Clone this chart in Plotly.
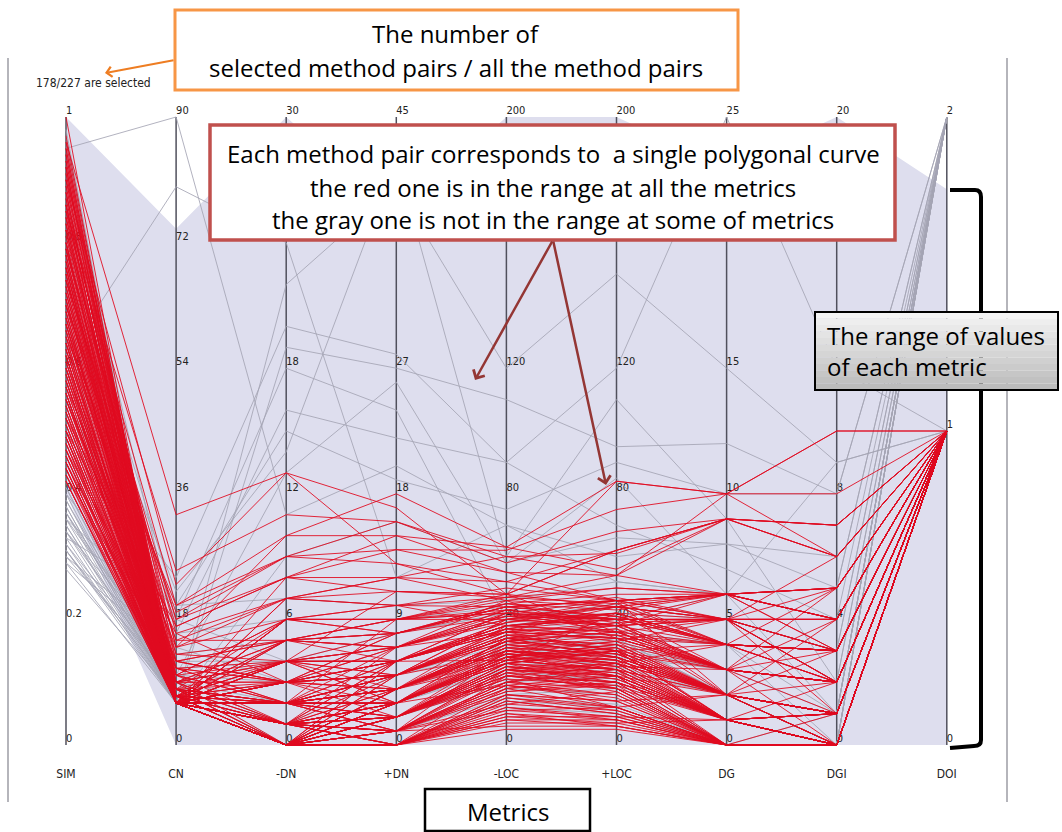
import plotly.graph_objects as go

W, H = 1062, 832

# ---------------- data ----------------
metrics = ["SIM", "CN", "-DN", "+DN", "-LOC", "+LOC", "DG", "DGI", "DOI"]
axis_max = [1, 90, 30, 45, 200, 200, 25, 20, 2]
tick_fracs = [0, 0.2, 0.4, 0.6, 0.8, 1.0]
# labels hidden by the callout boxes in the reference are left empty
tick_labels = [
    ["0", "0.2", "0.4", "0.6", "0.8", "1"],
    ["0", "18", "36", "54", "72", "90"],
    ["0", "6", "12", "18", "", "30"],
    ["0", "9", "18", "27", "", "45"],
    ["0", "40", "80", "120", "", "200"],
    ["0", "40", "80", "120", "", "200"],
    ["0", "5", "10", "15", "", "25"],
    ["0", "4", "8", "", "", "20"],
    ["0", "", "", "", "", "2"],
]
doi_mid_label = "1"

# selected range of each metric (lavender band)
range_lo = [0.4, 0, 0, 0, 0, 0, 0, 0, 0]
range_hi = [1.0, 74, 30, 38, 200, 200, 23, 20, 1.77]

# rows: SIM, CN, -DN, +DN, -LOC, +LOC, DG, DGI, DOI
red_rows = [
    (0.97,6,0,0,22,18,0,0,1), (0.96,7,1,1,30,26,1,0,1), (0.95,6,0,2,26,30,2,1,1),
    (0.94,8,2,3,34,28,1,0,1), (0.93,6,1,0,18,12,0,0,1), (0.93,9,3,4,38,36,3,2,1),
    (0.92,6,0,1,24,22,0,0,1), (0.91,10,4,6,42,40,4,3,1), (0.90,6,2,2,28,32,2,1,1),
    (0.90,7,0,5,36,44,5,2,1), (0.89,12,5,7,46,34,3,0,1), (0.88,6,1,3,32,27,1,1,1),
    (0.88,6,0,0,12,8,0,0,1), (0.87,8,3,5,40,38,6,4,1), (0.86,6,2,1,22,20,1,0,1),
    (0.86,14,6,8,44,46,2,3,1), (0.85,6,0,2,30,24,0,0,1), (0.85,9,4,4,35,30,4,2,1),
    (0.84,7,1,6,27,42,3,5,1), (0.83,6,0,0,16,14,0,0,1), (0.83,11,2,9,48,36,5,1,1),
    (0.82,6,3,3,34,28,2,0,1), (0.82,6,1,1,20,26,1,1,1), (0.81,16,7,10,38,40,6,4,1),
    (0.80,6,0,4,29,33,2,2,1), (0.80,8,2,2,24,18,0,0,1), (0.79,6,4,5,40,44,4,3,1),
    (0.79,10,1,7,36,30,3,1,1), (0.78,6,0,0,10,6,0,0,1), (0.78,7,5,6,42,38,5,2,1),
    (0.77,6,2,3,31,25,1,0,1), (0.77,12,3,8,45,40,2,4,1), (0.76,6,1,2,26,22,0,1,1),
    (0.76,9,0,4,33,36,3,2,1), (0.75,6,6,9,40,46,6,5,1), (0.75,6,0,1,18,20,1,0,1),
    (0.74,18,8,12,60,54,9,6,1), (0.74,7,2,5,34,32,2,1,1), (0.73,6,1,3,28,26,4,3,1),
    (0.73,8,0,0,14,10,0,0,1), (0.72,6,4,6,38,42,5,2,1), (0.72,11,2,4,30,28,1,0,1),
    (0.71,6,3,7,43,38,3,4,1), (0.71,6,0,2,22,18,0,0,1), (0.70,15,5,9,46,44,6,3,1),
    (0.70,6,1,1,24,28,2,1,1), (0.69,7,2,6,36,34,4,2,1), (0.69,6,0,3,27,24,1,0,1),
    (0.68,10,6,8,41,40,5,5,1), (0.68,6,1,0,16,12,0,0,1), (0.67,6,3,5,35,30,2,1,1),
    (0.67,13,4,11,48,62,9,7,1), (0.66,6,0,2,23,26,1,0,1), (0.66,8,2,4,33,36,3,2,1),
    (0.65,6,1,3,29,22,2,1,1), (0.65,20,9,14,62,75,10,6,1), (0.64,6,0,1,19,16,0,0,1),
    (0.64,7,5,7,40,42,4,3,1), (0.63,6,2,5,34,38,3,2,1), (0.63,9,1,2,25,20,1,0,1),
    (0.62,6,4,6,37,33,5,4,1), (0.62,6,0,0,12,9,0,0,1), (0.61,12,3,8,44,46,6,3,1),
    (0.61,6,1,4,30,28,2,1,1), (0.60,7,0,3,26,30,1,0,1), (0.60,6,6,9,42,40,4,5,1),
    (0.59,10,2,5,35,34,3,2,1), (0.59,6,0,1,20,18,0,0,1), (0.58,6,3,7,39,44,5,3,1),
    (0.58,8,1,2,24,26,2,1,1), (0.57,6,2,4,32,30,1,0,1), (0.57,14,7,10,47,54,6,4,1),
    (0.56,6,0,0,15,12,0,0,1), (0.56,7,4,6,38,36,4,2,1), (0.55,6,1,3,28,24,2,1,1),
    (0.55,9,5,8,43,40,5,3,1), (0.54,6,0,2,22,20,0,0,1), (0.54,6,2,5,34,32,3,2,1),
    (0.53,11,3,6,37,42,4,3,1), (0.53,6,1,1,18,22,1,0,1), (0.52,6,0,4,30,27,2,1,1),
    (0.52,8,6,9,45,48,6,5,1), (0.51,6,2,3,26,30,1,0,1), (0.51,7,0,0,10,8,0,0,1),
    (0.50,6,4,7,40,38,5,4,1), (0.50,16,3,5,36,34,3,2,1), (0.49,6,1,2,25,22,1,1,1),
    (0.49,6,0,3,29,26,2,0,1), (0.48,9,5,8,44,46,4,3,1), (0.48,6,2,4,32,35,3,2,1),
    (0.47,6,0,1,20,16,0,0,1), (0.47,12,3,6,38,40,5,3,1), (0.46,6,1,5,33,31,2,1,1),
    (0.46,7,4,7,41,44,6,4,1), (0.45,6,0,0,14,10,0,0,1), (0.45,10,2,3,27,24,1,0,1),
    (0.44,6,3,6,36,38,4,2,1), (0.44,6,1,2,23,20,1,1,1), (0.43,8,0,4,31,29,2,0,1),
    (0.43,6,5,9,42,36,3,3,1), (0.42,6,2,1,19,22,1,0,1), (0.42,7,0,3,28,32,2,1,1),
    (0.96,33,13,17,48,84,10,10,1), (0.90,23,13,13,48,62,9,7,1), (0.84,20,10,18,63,84,10,8,1),
    (0.79,18,9,16,60,61,9,6,1), (0.74,17,8,15,55,54,10,10,1),
    (0.95,6,0,0,8,6,0,0,1), (0.94,6,1,2,21,19,1,0,1), (0.92,7,2,4,33,29,2,1,1),
    (0.91,6,0,3,27,31,1,1,1), (0.89,6,3,5,37,35,3,2,1), (0.87,9,1,1,23,17,0,0,1),
    (0.86,6,0,6,39,45,4,3,1), (0.84,6,2,2,26,23,1,0,1), (0.83,8,4,7,43,39,5,4,1),
    (0.81,6,1,0,15,11,0,0,1), (0.80,6,0,3,29,27,2,1,1), (0.79,13,5,9,47,50,6,5,1),
    (0.77,6,2,4,31,34,3,2,1), (0.76,6,0,1,17,19,0,0,1), (0.75,7,3,6,38,41,4,3,1),
    (0.74,6,1,2,25,21,1,0,1), (0.72,6,0,5,34,37,2,1,1), (0.71,9,4,3,28,25,3,2,1),
    (0.70,6,2,7,42,46,5,4,1), (0.69,6,0,0,9,7,0,0,1), (0.68,7,1,4,31,29,2,1,1),
    (0.67,6,5,8,44,41,4,3,1), (0.66,11,3,2,24,21,1,0,1), (0.65,6,0,6,36,39,3,2,1),
    (0.64,6,2,3,30,26,2,1,1), (0.63,8,1,1,19,15,0,0,1), (0.62,6,4,5,37,40,5,3,1),
    (0.61,6,0,2,25,23,1,0,1), (0.60,10,6,10,50,46,6,4,1), (0.59,6,1,3,28,31,2,1,1),
    (0.58,7,3,4,33,29,3,2,1), (0.57,6,0,0,13,11,0,0,1), (0.56,6,2,6,39,42,4,3,1),
    (0.55,12,5,7,41,38,5,2,1), (0.54,6,1,2,22,25,1,1,1), (0.53,6,0,4,32,28,2,0,1),
    (0.52,7,4,8,45,43,6,5,1), (0.51,6,2,1,17,20,0,0,1), (0.50,6,0,3,27,30,2,1,1),
    (0.49,9,3,5,35,37,3,2,1), (0.48,6,1,0,11,9,0,0,1), (0.47,6,6,9,43,47,5,4,1),
    (0.46,8,0,2,24,22,1,0,1), (0.45,6,2,4,30,33,3,2,1), (0.44,6,1,6,37,35,4,3,1),
    (0.43,11,4,3,26,24,2,1,1), (0.42,6,0,1,16,14,0,0,1), (0.88,6,7,12,52,46,6,5,1),
    (0.82,14,10,15,63,56,9,6,1), (0.76,6,8,11,48,44,5,4,1), (0.70,19,9,13,52,62,9,7,1),
    (0.64,15,7,12,46,50,6,5,1), (0.58,6,6,10,44,41,4,3,1), (0.52,17,8,14,55,46,5,6,1),
    (0.47,6,7,11,47,45,6,4,1), (0.92,6,0,0,5,5,0,0,1), (0.86,6,0,0,7,7,1,0,1),
    (0.80,7,1,1,6,6,0,0,1), (0.73,6,0,0,8,8,0,0,1), (0.67,6,1,0,9,9,1,1,1),
    (0.60,6,0,1,11,12,0,0,1), (0.55,8,2,2,21,12,2,1,1), (0.50,6,3,4,26,18,1,2,1),
    (0.45,6,1,3,19,14,2,0,1), (1.00,6,2,5,33,39,3,2,1), (0.85,25,11,16,58,68,9,7,1),
    (0.78,6,0,2,20,24,1,0,1), (0.62,7,2,3,27,24,1,1,1), (0.56,6,3,5,29,27,2,1,1),
    (0.49,6,0,1,13,17,0,0,1), (0.44,7,2,4,28,22,1,1,1),
]

gray_rows = [
    (0.40,6,1,2,24,22,1,0,1), (0.39,8,0,4,30,28,2,1,1), (0.38,6,2,3,28,32,3,2,2),
    (0.37,10,3,6,36,34,2,0,1), (0.36,6,0,1,18,16,0,0,1), (0.35,7,1,5,32,36,4,3,2),
    (0.34,12,4,7,40,44,5,2,1), (0.33,6,0,0,12,10,0,0,1), (0.32,9,2,4,30,26,1,1,2),
    (0.31,6,5,8,42,38,3,2,1), (0.30,14,3,6,38,34,4,1,1), (0.29,6,1,2,22,20,0,0,2),
    (0.28,7,0,3,26,30,2,1,1), (0.41,6,2,5,34,30,3,1,1), (0.40,16,6,9,44,40,6,4,1),
    (0.38,6,0,2,20,24,1,0,1), (0.37,8,1,1,16,18,0,1,2), (0.36,11,4,6,38,42,5,3,1),
    (0.35,6,2,3,29,25,2,0,1), (0.34,6,0,4,31,33,3,2,1), (0.33,20,7,10,46,52,6,5,2),
    (0.32,6,1,0,14,12,0,0,1), (0.31,7,3,5,35,31,3,2,1), (0.30,9,0,2,23,21,1,0,2),
    (0.42,6,1,3,27,29,2,1,2), (0.39,6,2,4,31,28,2,1,1), (0.29,13,5,7,40,36,4,3,1),
    (0.36,18,4,8,42,46,5,3,1), (0.34,9,1,3,27,23,2,0,1), (0.41,7,0,1,15,13,0,0,2),
    (0.37,6,1,2,21,19,1,1,1), (0.31,8,2,3,25,27,2,0,2),
    (0.95,90,11,20,70,60,8,6,1), (0.98,6,19,27,110,95,12,8,2), (0.96,6,22,40,120,150,15,9,1),
    (0.91,16,16,22,90,120,25,12,1), (0.80,20,15,19,75,90,10,8,2),
    (0.70,22,14,42,60,110,9,2,1), (0.65,6,9,16,58,66,8,5,2),
    (0.60,10,13,26,58,85,6,1,2), (0.55,18,18,24,40,45,4,0,2), (0.50,24,20,28,90,70,7,4,2),
    (0.97,6,3,5,30,28,3,2,2), (0.88,7,2,4,28,34,2,1,2), (0.77,6,1,3,24,20,1,0,2),
    (0.68,9,4,6,38,40,4,3,2), (0.58,6,0,2,20,22,0,0,2), (0.46,8,2,5,34,30,2,1,2),
    (0.62,80,24,12,70,52,6,9,1),
]

selected_text = "178/227 are selected"

# ---------------- geometry helpers (pixel -> paper) ----------------
AX0_PX, AX_STEP_PX = 66.0, 110.1
Y0_PX, YSPAN_PX = 745.0, 628.0


def px(xp):
    return xp / W


def py(yp):
    return 1 - yp / H


n = len(metrics)


def norm(row):
    return [row[i] / axis_max[i] for i in range(n)]


fig = go.Figure()

# lavender selected-range band
hi = [range_hi[i] / axis_max[i] for i in range(n)]
lo = [range_lo[i] / axis_max[i] for i in range(n)]
fig.add_trace(go.Scatter(
    x=list(range(n)) + list(range(n))[::-1],
    y=hi + lo[::-1],
    fill="toself", fillcolor="#dedeee", mode="lines",
    line=dict(width=0), hoverinfo="skip"))

# axes
ax_x, ax_y = [], []
for i in range(n):
    ax_x += [i, i, None]
    ax_y += [0, 1, None]
fig.add_trace(go.Scatter(x=ax_x, y=ax_y, mode="lines",
                         line=dict(color="#50505c", width=1.5), hoverinfo="skip"))

# tick labels
tx, ty, tt = [], [], []
for i in range(n):
    for f, lab in zip(tick_fracs, tick_labels[i]):
        if lab:
            tx.append(i)
            ty.append(f)
            tt.append(lab)
tx.append(8)
ty.append(0.5)
tt.append(doi_mid_label)
tick_font = "Liberation Sans Narrow, DejaVu Sans Condensed, Liberation Sans, sans-serif"
fig.add_trace(go.Scatter(x=tx, y=ty, text=tt, mode="text", textposition="top right",
                         textfont=dict(family=tick_font, size=11, color="#222222"),
                         hoverinfo="skip"))

# metric names
fig.add_trace(go.Scatter(x=list(range(n)), y=[(Y0_PX - 775) / YSPAN_PX] * n, text=metrics,
                         mode="text", textposition="middle center",
                         textfont=dict(family=tick_font, size=12, color="#222222"),
                         hoverinfo="skip"))


def polylines(rows):
    xs, ys = [], []
    for r in rows:
        xs += list(range(n)) + [None]
        ys += norm(r) + [None]
    return xs, ys


gx, gy = polylines(gray_rows)
fig.add_trace(go.Scatter(x=gx, y=gy, mode="lines",
                         line=dict(color="rgba(165,165,180,0.85)", width=1), hoverinfo="skip"))
rx, ry = polylines(red_rows)
fig.add_trace(go.Scatter(x=rx, y=ry, mode="lines",
                         line=dict(color="rgba(224,10,32,0.88)", width=1), hoverinfo="skip"))

# ---------------- annotation boxes ----------------
shapes = []
annotations = []
note_font = "Open Sans, Noto Sans, sans-serif"
note_size = 24

# frame lines
for xx in (8, 1007):
    shapes.append(dict(type="line", xref="paper", yref="paper", x0=px(xx), x1=px(xx),
                       y0=py(58), y1=py(802), line=dict(color="#9c9ca4", width=1.5),
                       layer="above"))

# orange box
shapes.append(dict(type="rect", xref="paper", yref="paper", x0=px(175), x1=px(738),
                   y0=py(10), y1=py(90), fillcolor="white",
                   line=dict(color="#F79646", width=3), layer="above"))
for txt, yy in (("The number of", 34), ("selected method pairs / all the method pairs", 67)):
    annotations.append(dict(xref="paper", yref="paper", x=px(456), y=py(yy), text=txt,
                            showarrow=False, xanchor="center", yanchor="middle",
                            font=dict(family=note_font, size=note_size, color="black")))
annotations.append(dict(xref="paper", yref="paper", x=px(105), y=py(73), text="",
                        showarrow=True, ax=70, ay=-13, arrowhead=4, arrowsize=1,
                        arrowwidth=2, arrowcolor="#EE7D22"))

# selection count
annotations.append(dict(xref="paper", yref="paper", x=px(34), y=py(83), text=selected_text,
                        showarrow=False, xanchor="left", yanchor="middle",
                        font=dict(family=tick_font, size=12, color="#222222")))

# red box
shapes.append(dict(type="rect", xref="paper", yref="paper", x0=px(210), x1=px(895),
                   y0=py(125), y1=py(240), fillcolor="white",
                   line=dict(color="#C0504D", width=3.5), layer="above"))
for txt, yy in (("Each method pair corresponds to  a single polygonal curve", 153),
                ("the red one is in the range at all the metrics", 187),
                ("the gray one is not in the range at some of metrics", 219)):
    annotations.append(dict(xref="paper", yref="paper", x=px(553), y=py(yy), text=txt,
                            showarrow=False, xanchor="center", yanchor="middle",
                            font=dict(family=note_font, size=note_size, color="black")))
for hx, hy in ((475, 380), (606, 485)):
    annotations.append(dict(xref="paper", yref="paper", x=px(hx), y=py(hy), text="",
                            showarrow=True, ax=553 - hx, ay=240 - hy, arrowhead=4,
                            arrowsize=1, arrowwidth=2.5, arrowcolor="#943634"))

# bracket
path = (f"M {px(950)},{py(190)} L {px(975)},{py(190)} Q {px(981)},{py(190)} {px(981)},{py(197)} "
        f"L {px(981)},{py(740)} Q {px(981)},{py(746)} {px(974)},{py(746)} L {px(950)},{py(748)}")
shapes.append(dict(type="path", xref="paper", yref="paper", path=path,
                   line=dict(color="black", width=4), layer="above"))

# gray gradient box
gx0, gx1, gy0, gy1 = 815, 1058, 312, 390
steps = 12
for k in range(steps):
    c = int(244 - (244 - 188) * k / (steps - 1))
    shapes.append(dict(type="rect", xref="paper", yref="paper", x0=px(gx0), x1=px(gx1),
                       y0=py(gy0 + (gy1 - gy0) * k / steps),
                       y1=py(gy0 + (gy1 - gy0) * (k + 1) / steps),
                       fillcolor=f"rgb({c},{c},{c})", line=dict(width=0), layer="above"))
shapes.append(dict(type="rect", xref="paper", yref="paper", x0=px(gx0), x1=px(gx1),
                   y0=py(gy0), y1=py(gy1), line=dict(color="black", width=2), layer="above"))
for txt, yy in (("The range of values", 335), ("of each metric", 367)):
    annotations.append(dict(xref="paper", yref="paper", x=px(825), y=py(yy), text=txt,
                            showarrow=False, xanchor="left", yanchor="middle",
                            font=dict(family=note_font, size=note_size, color="black")))

# metrics box
shapes.append(dict(type="rect", xref="paper", yref="paper", x0=px(425), x1=px(590),
                   y0=py(789), y1=py(831), fillcolor="white",
                   line=dict(color="black", width=2.5), layer="above"))
annotations.append(dict(xref="paper", yref="paper", x=px(508), y=py(811), text="Metrics",
                        showarrow=False, xanchor="center", yanchor="middle",
                        font=dict(family=note_font, size=note_size, color="black")))

# ---------------- layout ----------------
x_lo = -AX0_PX / AX_STEP_PX
x_hi = x_lo + W / AX_STEP_PX
y_hi = Y0_PX / YSPAN_PX
y_lo = (Y0_PX - H) / YSPAN_PX

fig.update_layout(
    width=W, height=H, margin=dict(l=0, r=0, t=0, b=0),
    paper_bgcolor="white", plot_bgcolor="white", showlegend=False,
    xaxis=dict(range=[x_lo, x_hi], visible=False, fixedrange=True),
    yaxis=dict(range=[y_lo, y_hi], visible=False, fixedrange=True),
    shapes=shapes, annotations=annotations, hovermode=False,
)

fig.write_html("out.html", config={"displayModeBar": False},
               post_script="document.body.style.margin='0px';")
